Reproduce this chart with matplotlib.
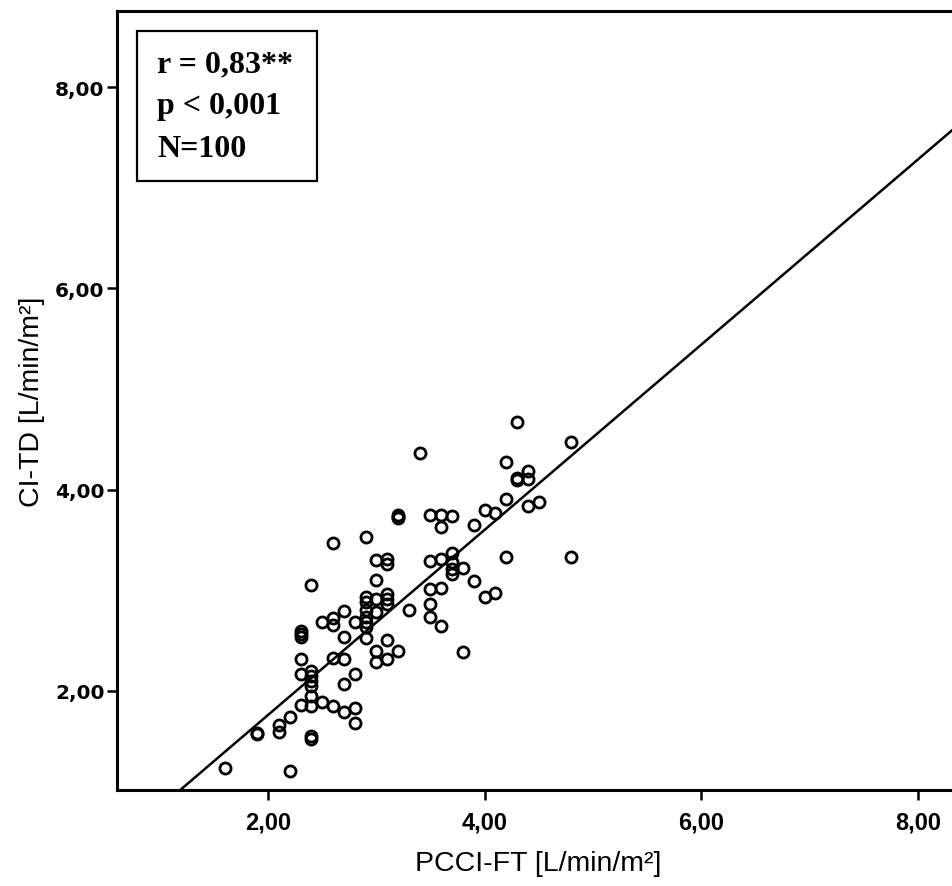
import matplotlib.pyplot as plt
import numpy as np
from matplotlib.patches import Rectangle
from matplotlib.ticker import FixedLocator, FuncFormatter

# PCCI-FT vs CI-TD (L/min/m²)
pcci_ft = [1.6, 1.9, 1.9, 2.1, 2.1, 2.2, 2.2, 2.3, 2.3, 2.3,
           2.3, 2.3, 2.4, 2.4, 2.4, 2.4, 2.4, 2.4, 2.4, 2.4,
           2.5, 2.5, 2.6, 2.6, 2.6, 2.6, 2.6, 2.7, 2.7, 2.7,
           2.7, 2.7, 2.8, 2.8, 2.8, 2.8, 2.9, 2.9, 2.9, 2.9,
           2.9, 2.9, 2.9, 3.0, 3.0, 3.0, 3.0, 3.0, 3.0, 3.1,
           3.1, 3.1, 3.1, 3.1, 3.1, 3.2, 3.2, 3.2, 3.3, 3.4,
           3.5, 3.5, 3.5, 3.5, 3.5, 3.6, 3.6, 3.6, 3.6, 3.6,
           3.7, 3.7, 3.7, 3.7, 3.8, 3.8, 3.9, 3.9, 4.0, 4.0,
           4.1, 4.1, 4.2, 4.2, 4.2, 4.3, 4.3, 4.3, 4.4, 4.4,
           4.4, 4.5, 4.8, 4.8, 2.4, 2.9, 3.1, 3.7, 2.3, 3.2]
ci_td = [1.23, 1.57, 1.58, 1.59, 1.66, 1.74, 1.20, 1.86, 2.17, 2.32,
         2.53, 2.59, 1.52, 1.55, 1.85, 1.95, 2.05, 2.15, 2.20, 3.05,
         1.89, 2.68, 1.85, 2.33, 2.65, 2.72, 3.47, 1.79, 2.07, 2.32,
         2.53, 2.79, 1.68, 1.83, 2.17, 2.68, 2.52, 2.68, 2.73, 2.80,
         2.88, 2.93, 3.53, 2.29, 2.40, 2.78, 2.91, 3.10, 3.30, 2.32,
         2.50, 2.86, 2.96, 3.26, 3.31, 2.40, 3.72, 3.75, 2.80, 4.36,
         2.73, 2.86, 3.01, 3.29, 3.75, 2.64, 3.02, 3.31, 3.63, 3.75,
         3.21, 3.28, 3.37, 3.74, 2.39, 3.22, 3.09, 3.65, 2.93, 3.80,
         2.97, 3.77, 3.33, 3.91, 4.27, 4.10, 4.12, 4.67, 3.84, 4.11,
         4.18, 3.88, 3.33, 4.47, 2.10, 2.63, 2.91, 3.16, 2.56, 3.73]

fit_slope = 0.92
fit_intercept = -0.08

stats_lines = ["r = 0,83**", "p < 0,001", "N=100"]

x_ticks = [2, 4, 6, 8]
y_ticks = [2, 4, 6, 8]

W, H = 952, 887
ax_l, ax_b, ax_w, ax_h = 117, 96, 843, 779  # pixels

fig = plt.figure(figsize=(W / 100, H / 100), dpi=100)
ax = fig.add_axes([ax_l / W, ax_b / H, ax_w / W, ax_h / H])

ax.set_xlim(0.605, 8.39)
ax.set_ylim(1.014, 8.757)

# regression line
xs = np.array(ax.get_xlim())
ax.plot(xs, fit_slope * xs + fit_intercept, color='black', lw=1.8, zorder=2)

ax.plot(pcci_ft, ci_td, linestyle='none', marker='o', ms=8, mew=2.0,
        mfc='none', mec='black', zorder=3)

for s in ax.spines.values():
    s.set_linewidth(2.2)
    s.set_color('black')

comma = FuncFormatter(lambda v, p: f"{v:.2f}".replace('.', ','))
ax.xaxis.set_major_locator(FixedLocator(x_ticks))
ax.yaxis.set_major_locator(FixedLocator(y_ticks))
ax.xaxis.set_major_formatter(comma)
ax.yaxis.set_major_formatter(comma)
ax.tick_params(axis='both', direction='out', length=7, width=1.8, color='black')
ax.tick_params(axis='x', pad=8)
ax.tick_params(axis='y', pad=2)

for lab in ax.get_xticklabels():
    lab.set_family(['Liberation Sans Narrow', 'Liberation Sans'])
    lab.set_fontweight('bold')
    lab.set_fontsize(17)
for lab in ax.get_yticklabels():
    lab.set_family('DejaVu Sans')
    lab.set_fontweight('bold')
    lab.set_fontsize(14.5)

ax.set_xlabel("PCCI-FT [L/min/m²]", fontsize=20.5, family='Liberation Sans', labelpad=12)
ax.set_ylabel("CI-TD [L/min/m²]", fontsize=20.5, family='Liberation Sans')
ax.yaxis.set_label_coords(-72 / ax_w, 0.5)

# statistics box (pixel positions from the top-left of the image)
top = ax_b + ax_h  # axes top measured from figure bottom
box_x0, box_y0, box_x1, box_y1 = 137, 32, 317, 182
def to_ax(px, py):
    return (px - ax_l) / ax_w, (H - py - ax_b) / ax_h

bx, by = to_ax(box_x0, box_y1)
ax.add_patch(Rectangle((bx, by), (box_x1 - box_x0) / ax_w, (box_y1 - box_y0) / ax_h,
                       transform=ax.transAxes, fc='white', ec='black', lw=1.6, zorder=4))
for line, base in zip(stats_lines, [72, 114, 157]):
    tx, ty = to_ax(157, base)
    ax.text(tx, ty, line, transform=ax.transAxes, family='Liberation Serif',
            fontweight='bold', fontsize=23, va='baseline', ha='left', zorder=5)

fig.savefig('out.png', dpi=100)
